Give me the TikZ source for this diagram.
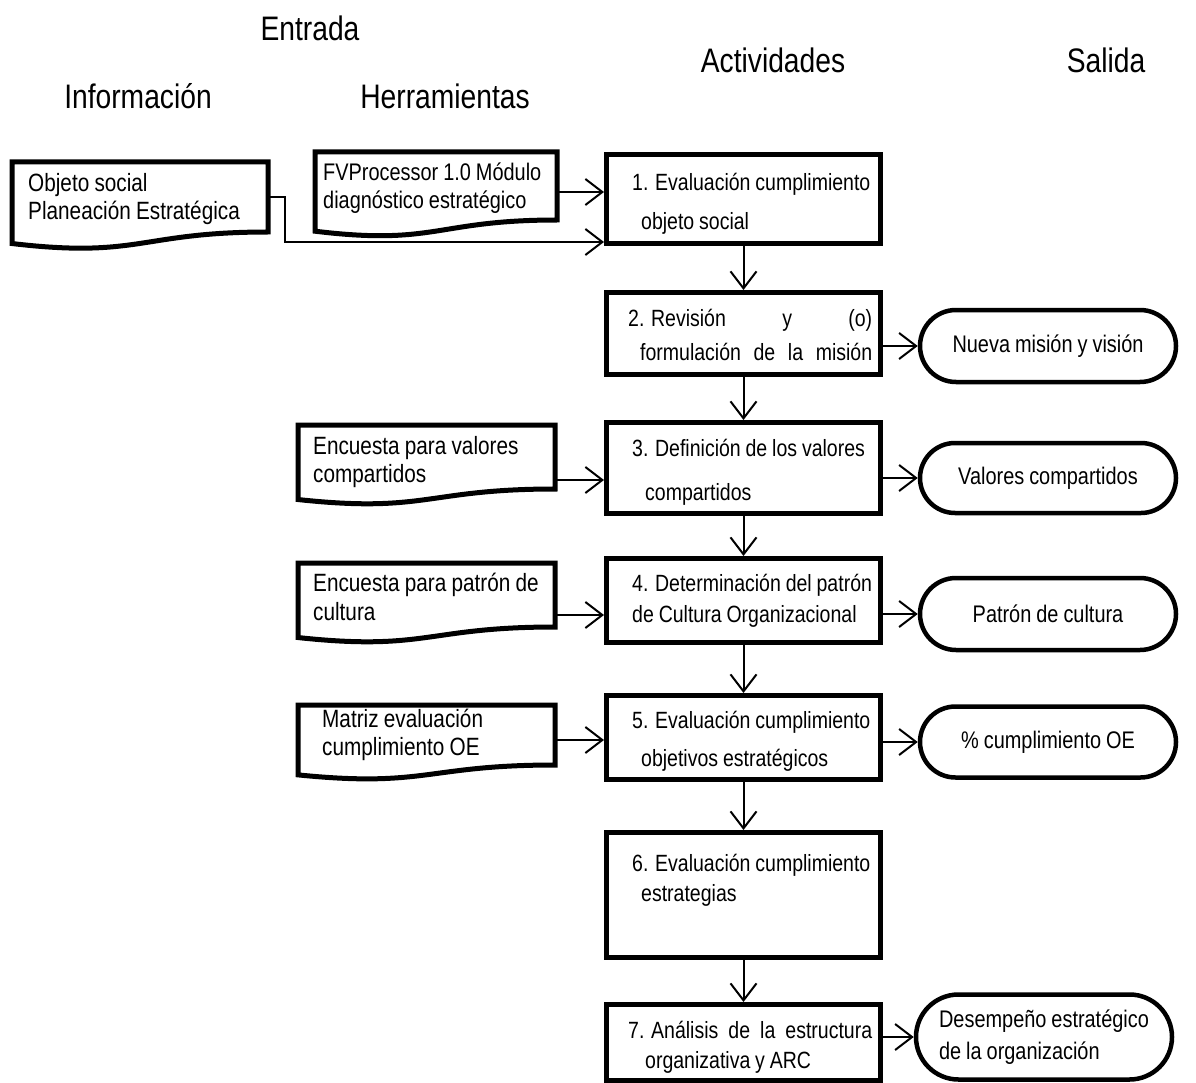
\documentclass[tikz,border=0pt]{standalone}
\usepackage{fontspec}
\setmainfont{Liberation Sans}[FakeStretch=0.83, WordSpace=0.9]
\usetikzlibrary{arrows.meta,calc,shapes.misc}

\tikzset{
  header/.style={font=\fontsize{34}{38}\selectfont, inner sep=0pt},
  txtline/.style={font=\fontsize{23.5}{27}\selectfont, inner sep=0pt, anchor=base west},
  actbox/.style={draw, rectangle, line width=5pt, minimum width=274pt, anchor=north west},
  docnode/.style={rectangle, inner sep=0pt, outer sep=0pt, anchor=north west},
  doctext/.style={inner sep=0pt, anchor=west, align=flush left,
    font=\fontsize{25}{28.5}\selectfont},
  docline/.style={draw, line width=5pt, line join=miter},
  outbox/.style={draw, rounded rectangle, line width=4.5pt, minimum width=260pt,
    align=flush left, inner sep=2pt, font=\fontsize{24}{32}\selectfont},
  arr/.style={line width=2pt, -{Straight Barb[length=17pt,width=26pt]}},
}

% document symbol: flat top, wavy bottom (height #2 = straight right side)
\newcommand\docoutline[2]{%
  \draw[docline] (#1.north west) -- (#1.north east) -- (#1.south east)
    .. controls (#1.south) and ($(#1.south)+(0,#2*0.381)$)
    .. ($(#1.south west)+(0,#2*0.1646)$) -- cycle;}

\begin{document}
\begin{tikzpicture}[x=1pt,y=-1pt]
\useasboundingbox[fill=white] (0,0) rectangle (1196,1083);

% column headings
\node[header] (hEntrada) at (310,28) {Entrada};
\node[header] (hAct) at (773,60) {Actividades};
\node[header] (hSal) at (1106,60) {Salida};
\node[header] (hInfo) at (138,96) {Información};
\node[header] (hHerr) at (445,96) {Herramientas};

% activities
\node[actbox, minimum height=89pt] (a1) at (604,152) {};
\node[actbox, minimum height=82pt] (a2) at (604,290) {};
\node[actbox, minimum height=91pt] (a3) at (604,420) {};
\node[actbox, minimum height=84pt] (a4) at (604,556) {};
\node[actbox, minimum height=84pt] (a5) at (604,693) {};
\node[actbox, minimum height=125pt] (a6) at (604,830) {};
\node[actbox, minimum height=76pt] (a7) at (604,1002) {};

\node[txtline] (a1l1) at (632,191) {1. Evaluación cumplimiento};
\node[txtline] (a1l2) at (641,230) {objeto social};
\node[txtline] (a2l1) at (628,326) {\makebox[244pt][s]{\mbox{2. Revisión}\hfill y\hfill (o)}};
\node[txtline] (a2l2) at (640,360) {\makebox[232pt][s]{formulación de la misión}};
\node[txtline] (a3l1) at (632,456) {3. Definición de los valores};
\node[txtline] (a3l2) at (645,500) {compartidos};
\node[txtline] (a4l1) at (632,591) {4. Determinación del patrón};
\node[txtline] (a4l2) at (632,622) {de Cultura Organizacional};
\node[txtline] (a5l1) at (632,728) {5. Evaluación cumplimiento};
\node[txtline] (a5l2) at (641,766) {objetivos estratégicos};
\node[txtline] (a6l1) at (632,871) {6. Evaluación cumplimiento};
\node[txtline] (a6l2) at (641,901) {estrategias};
\node[txtline] (a7l1) at (628,1038) {\makebox[244pt][s]{\mbox{7. Análisis} de la estructura}};
\node[txtline] (a7l2) at (645,1068) {organizativa y ARC};

% information and tools (document symbols)
\node[docnode, minimum width=256pt, minimum height=70pt] (info) at (12,162) {};
\docoutline{info}{70}
\node[doctext] (infot) at ([xshift=16pt,yshift=-2pt]info.west) {Objeto social\\Planeación Estratégica};

\node[docnode, minimum width=242pt, minimum height=68pt] (t1) at (315,152) {};
\docoutline{t1}{68}
\node[doctext, font=\fontsize{24}{28.5}\selectfont] (t1t) at ([xshift=8pt,yshift=-2pt]t1.west)
  {FVProcessor 1.0 Módulo\\diagnóstico estratégico};

\node[docnode, minimum width=257pt, minimum height=64pt] (t3) at (298,425) {};
\docoutline{t3}{64}
\node[doctext] (t3t) at ([xshift=15pt,yshift=-5pt]t3.west) {Encuesta para valores\\compartidos};

\node[docnode, minimum width=257pt, minimum height=64pt] (t4) at (298,563) {};
\docoutline{t4}{64}
\node[doctext] (t4t) at ([xshift=15pt,yshift=-2pt]t4.west) {Encuesta para patrón de\\cultura};

\node[docnode, minimum width=257pt, minimum height=60pt] (t5) at (298,705) {};
\docoutline{t5}{60}
\node[doctext] (t5t) at ([xshift=24pt,yshift=0pt]t5.west) {Matriz evaluación\\cumplimiento OE};

% outputs
\node[outbox, minimum height=72pt] (o2) at (1048,346) {Nueva misión y visión};
\node[outbox, minimum height=70pt] (o3) at (1048,478) {Valores compartidos};
\node[outbox, minimum height=72pt] (o4) at (1048,614) {Patrón de cultura};
\node[outbox, minimum height=71pt] (o5) at (1048,742) {\% cumplimiento OE};
\node[outbox, minimum height=85pt] (o7) at (1044,1037) {Desempeño estratégico\\de la organización};

% flow between activities
\draw[arr] (a1.south) -- (a2.north);
\draw[arr] (a2.south) -- (a3.north);
\draw[arr] (a3.south) -- (a4.north);
\draw[arr] (a4.south) -- (a5.north);
\draw[arr] (a5.south) -- (a6.north);
\draw[arr] (a6.south) -- (a7.north);

% inputs
\coordinate (t1o) at ([yshift=-6pt]t1.east);
\draw[arr] (t1o) -- (t1o -| a1.west);
\coordinate (a1in) at ([yshift=4pt]a1.south west);
\draw[arr] (info.east) -- ++(17,0) |- (a1in);
\coordinate (t3o) at ([yshift=-23pt]t3.east);
\draw[arr] (t3o) -- (t3o -| a3.west);
\coordinate (t4o) at ([yshift=-20pt]t4.east);
\draw[arr] (t4o) -- (t4o -| a4.west);
\coordinate (t5o) at ([yshift=-5pt]t5.east);
\draw[arr] (t5o) -- (t5o -| a5.west);

% outputs
\draw[arr] (a2.east |- o2.west) -- (o2.west);
\draw[arr] (a3.east |- o3.west) -- (o3.west);
\draw[arr] (a4.east |- o4.west) -- (o4.west);
\draw[arr] (a5.east |- o5.west) -- (o5.west);
\draw[arr] (a7.east |- o7.west) -- (o7.west);
\end{tikzpicture}
\end{document}
